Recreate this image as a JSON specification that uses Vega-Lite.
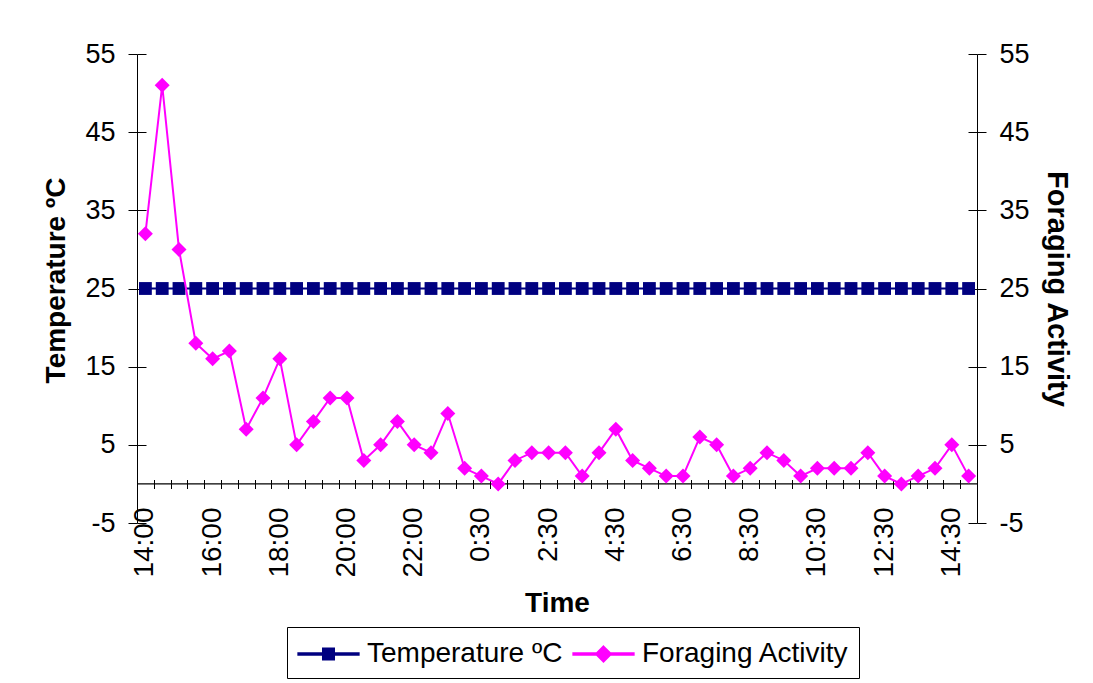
{
  "$schema": "https://vega.github.io/schema/vega-lite/v6.json",
  "width": 840,
  "height": 469,
  "autosize": {"type": "none"},
  "padding": {"left": 137, "top": 54, "right": 116, "bottom": 160},
  "background": "white",
  "config": {
    "font": "Liberation Sans",
    "view": {"stroke": null},
    "axis": {
      "grid": false,
      "labelFont": "Liberation Sans",
      "titleFont": "Liberation Sans",
      "labelColor": "black",
      "titleColor": "black",
      "domainColor": "black",
      "tickColor": "black",
      "labelFontSize": 27,
      "titleFontSize": 28,
      "titleFontWeight": "bold"
    }
  },
  "data": {
    "values": [
      {"time": "1 14:00", "temp": 25, "forage": 32},
      {"time": "1 14:30", "temp": 25, "forage": 51},
      {"time": "1 15:00", "temp": 25, "forage": 30},
      {"time": "1 15:30", "temp": 25, "forage": 18},
      {"time": "1 16:00", "temp": 25, "forage": 16},
      {"time": "1 16:30", "temp": 25, "forage": 17},
      {"time": "1 17:00", "temp": 25, "forage": 7},
      {"time": "1 17:30", "temp": 25, "forage": 11},
      {"time": "1 18:00", "temp": 25, "forage": 16},
      {"time": "1 18:30", "temp": 25, "forage": 5},
      {"time": "1 19:00", "temp": 25, "forage": 8},
      {"time": "1 19:30", "temp": 25, "forage": 11},
      {"time": "1 20:00", "temp": 25, "forage": 11},
      {"time": "1 20:30", "temp": 25, "forage": 3},
      {"time": "1 21:00", "temp": 25, "forage": 5},
      {"time": "1 21:30", "temp": 25, "forage": 8},
      {"time": "1 22:00", "temp": 25, "forage": 5},
      {"time": "1 22:30", "temp": 25, "forage": 4},
      {"time": "1 23:00", "temp": 25, "forage": 9},
      {"time": "1 23:30", "temp": 25, "forage": 2},
      {"time": "2 0:30", "temp": 25, "forage": 1},
      {"time": "2 1:00", "temp": 25, "forage": 0},
      {"time": "2 1:30", "temp": 25, "forage": 3},
      {"time": "2 2:00", "temp": 25, "forage": 4},
      {"time": "2 2:30", "temp": 25, "forage": 4},
      {"time": "2 3:00", "temp": 25, "forage": 4},
      {"time": "2 3:30", "temp": 25, "forage": 1},
      {"time": "2 4:00", "temp": 25, "forage": 4},
      {"time": "2 4:30", "temp": 25, "forage": 7},
      {"time": "2 5:00", "temp": 25, "forage": 3},
      {"time": "2 5:30", "temp": 25, "forage": 2},
      {"time": "2 6:00", "temp": 25, "forage": 1},
      {"time": "2 6:30", "temp": 25, "forage": 1},
      {"time": "2 7:00", "temp": 25, "forage": 6},
      {"time": "2 7:30", "temp": 25, "forage": 5},
      {"time": "2 8:00", "temp": 25, "forage": 1},
      {"time": "2 8:30", "temp": 25, "forage": 2},
      {"time": "2 9:00", "temp": 25, "forage": 4},
      {"time": "2 9:30", "temp": 25, "forage": 3},
      {"time": "2 10:00", "temp": 25, "forage": 1},
      {"time": "2 10:30", "temp": 25, "forage": 2},
      {"time": "2 11:00", "temp": 25, "forage": 2},
      {"time": "2 11:30", "temp": 25, "forage": 2},
      {"time": "2 12:00", "temp": 25, "forage": 4},
      {"time": "2 12:30", "temp": 25, "forage": 1},
      {"time": "2 13:00", "temp": 25, "forage": 0},
      {"time": "2 13:30", "temp": 25, "forage": 1},
      {"time": "2 14:00", "temp": 25, "forage": 2},
      {"time": "2 14:30", "temp": 25, "forage": 5},
      {"time": "2 15:00", "temp": 25, "forage": 1}
    ]
  },
  "layer": [
    {
      "data": {"values": [{}]},
      "mark": {"type": "rule", "color": "black", "strokeWidth": 1.2},
      "encoding": {
        "y": {
          "datum": 0,
          "type": "quantitative",
          "scale": {"domain": [-5, 55], "nice": false, "zero": false},
          "axis": {"orient": "left", "offset": -9, "domain": false, "labels": false, "ticks": true, "tickSize": 9, "title": null, "values": [-5, 5, 15, 25, 35, 45, 55]}
        }
      }
    },
    {
      "mark": {"type": "line", "strokeWidth": 2},
      "encoding": {
        "x": {
          "field": "time", "type": "ordinal", "sort": null,
          "scale": {"type": "band", "paddingInner": 0, "paddingOuter": 0},
          "axis": {
            "orient": "bottom", "domain": false, "ticks": false, "tickSize": 0,
            "labelAngle": -90, "labelPadding": -16, "labelFontSize": 28,
            "values": ["1 14:00", "1 16:00", "1 18:00", "1 20:00", "1 22:00", "2 0:30", "2 2:30", "2 4:30", "2 6:30", "2 8:30", "2 10:30", "2 12:30", "2 14:30"],
            "labelExpr": "split(datum.value, ' ')[1]",
            "title": "Time", "titlePadding": 12, "labelOverlap": false
          }
        },
        "y": {
          "field": "temp", "type": "quantitative",
          "scale": {"domain": [-5, 55], "nice": false, "zero": false},
          "axis": {"orient": "left", "values": [-5, 5, 15, 25, 35, 45, 55], "labelExpr": "'' + datum.value", "tickSize": 9, "labelPadding": 13, "title": "Temperature ºC", "titlePadding": 14, "titleY": 226}
        },
        "color": {
          "datum": "Temperature ºC",
          "scale": {"domain": ["Temperature ºC", "Foraging Activity"], "range": ["#000080", "#FF00FF"]},
          "legend": {
            "orient": "none", "legendX": 150, "legendY": 573,
            "direction": "horizontal", "title": null,
            "strokeColor": "black", "fillColor": "white", "padding": 10,
            "labelFontSize": 28, "labelFont": "Liberation Sans", "labelColor": "black", "labelLimit": 400,
            "symbolSize": 1024, "symbolOffset": 14.5, "labelOffset": 21.5, "columnPadding": 7,
            "encode": {
              "symbols": {
                "update": {
                  "shape": {"signal": "datum.value === 'Temperature ºC' ? 'M-1.9,-0.066H1.9V0.066H-1.9Z M-0.36,-0.36H0.36V0.36H-0.36Z' : 'M-1.9,-0.066H1.9V0.066H-1.9Z M0,-0.49L0.49,0L0,0.49L-0.49,0Z'"},
                  "fill": {"signal": "datum.value === 'Temperature ºC' ? '#000080' : '#FF00FF'"},
                  "stroke": {"value": "transparent"},
                  "opacity": {"value": 1},
                  "size": {"value": 1024}
                }
              }
            }
          }
        }
      }
    },
    {
      "mark": {"type": "point", "shape": "square", "filled": true, "size": 165, "opacity": 1},
      "encoding": {
        "x": {"field": "time", "type": "ordinal", "sort": null, "scale": {"type": "band", "paddingInner": 0, "paddingOuter": 0}, "axis": null},
        "y": {"field": "temp", "type": "quantitative", "scale": {"domain": [-5, 55], "nice": false, "zero": false}, "axis": null},
        "color": {"datum": "Temperature ºC"}
      }
    },
    {
      "mark": {"type": "line", "strokeWidth": 2},
      "encoding": {
        "x": {
          "field": "time", "type": "ordinal", "sort": null,
          "scale": {"type": "band", "paddingInner": 0, "paddingOuter": 0},
          "axis": {"orient": "bottom", "offset": -43.5, "domain": false, "labels": false, "ticks": true, "tickSize": 9, "tickBand": "extent", "title": null}
        },
        "y": {
          "field": "forage", "type": "quantitative",
          "scale": {"domain": [-5, 55], "nice": false, "zero": false},
          "axis": {"orient": "right", "values": [-5, 5, 15, 25, 35, 45, 55], "labelExpr": "'' + datum.value", "tickSize": 9, "labelPadding": 13, "title": "Foraging Activity", "titleFontSize": 29, "titlePadding": 12}
        },
        "color": {"datum": "Foraging Activity"}
      }
    },
    {
      "mark": {"type": "point", "shape": "diamond", "filled": true, "size": 225, "opacity": 1},
      "encoding": {
        "x": {"field": "time", "type": "ordinal", "sort": null, "scale": {"type": "band", "paddingInner": 0, "paddingOuter": 0}, "axis": null},
        "y": {
          "field": "forage", "type": "quantitative",
          "scale": {"domain": [-5, 55], "nice": false, "zero": false},
          "axis": {"orient": "right", "offset": -9, "domain": false, "labels": false, "ticks": true, "tickSize": 9, "title": null, "values": [-5, 5, 15, 25, 35, 45, 55]}
        },
        "color": {"datum": "Foraging Activity"}
      }
    }
  ],
  "resolve": {"axis": {"x": "independent", "y": "independent"}}
}
